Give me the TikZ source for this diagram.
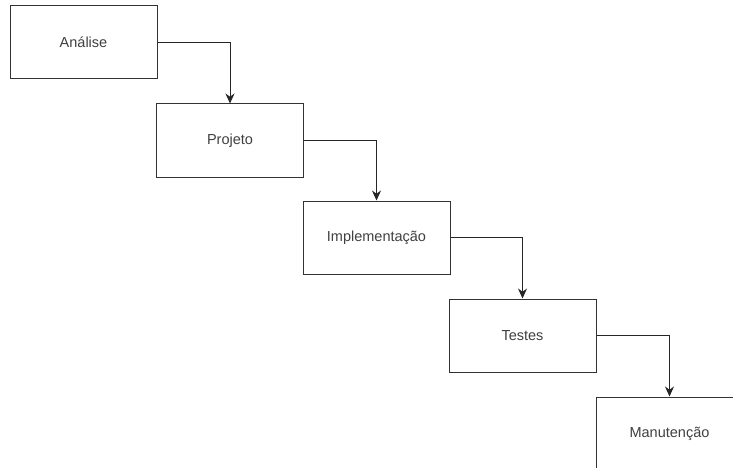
\documentclass[tikz,border=0pt]{standalone}
\usepackage{fontspec}
\setmainfont{Liberation Sans}
\usetikzlibrary{arrows.meta}

\begin{document}
\begin{tikzpicture}[x=1pt,y=-1pt]
		% box and connector styles
		\tikzset{
			phase/.style={draw=black!80,line width=1pt,minimum width=147pt,minimum height=73pt,inner sep=0pt,text=black!75,font=\fontsize{14.5}{17}\selectfont},
			flow/.style={draw=black!85,line width=1pt,-{Stealth[length=10pt,width=9pt]}}
		}
		
		% size of the sheet
		\clip (0,0) rectangle (733,468);
		\fill[white] (0,0) rectangle (733,468);
		
		% draw the phases
		\node[phase] (analise) at (83.5,42.5) {Análise};
		\node[phase] (projeto) at (230,140.5) {Projeto};
		\node[phase] (implementacao) at (376.5,237.5) {Implementação};
		\node[phase] (testes) at (522.5,335.5) {Testes};
		\node[phase] (manutencao) at (669.5,433.5) {Manutenção};
		
		% connect each phase to the next one
		\draw[flow] (analise.east) -| (projeto.north);
		\draw[flow] (projeto.east) -| (implementacao.north);
		\draw[flow] (implementacao.east) -| (testes.north);
		\draw[flow] (testes.east) -| (manutencao.north);
		
\end{tikzpicture}
\end{document}
